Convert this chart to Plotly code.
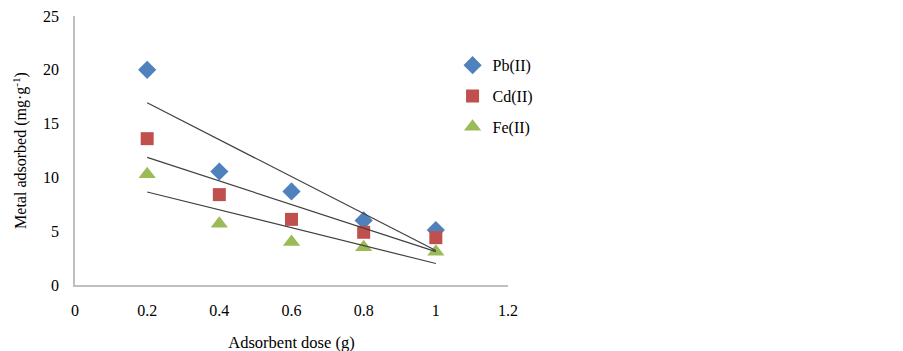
import numpy as np
import plotly.graph_objects as go

dose = [0.2, 0.4, 0.6, 0.8, 1.0]
pb = [20.0, 10.55, 8.7, 6.0, 5.1]
cd = [13.6, 8.4, 6.1, 4.9, 4.4]
fe = [10.3, 5.7, 4.0, 3.5, 3.1]

series = [
    ("Pb(II)", pb, "#4F81BD", "diamond", 14),
    ("Cd(II)", cd, "#C0504D", "square", 13),
    ("Fe(II)", fe, "#9BBB59", "triangle-up", 15),
]

fig = go.Figure()
for name, ys, color, sym, sz in series:
    fig.add_trace(go.Scatter(
        x=dose, y=ys, mode="markers", name=name, legendgroup=name,
        marker=dict(color=color, symbol=sym, size=sz, line=dict(width=0)),
    ))
for name, ys, color, sym, sz in series:
    k, b = np.polyfit(dose, ys, 1)
    xs = [dose[0], dose[-1]]
    fig.add_trace(go.Scatter(
        x=xs, y=[k * v + b for v in xs], mode="lines", showlegend=False,
        line=dict(color="#404040", width=1.2),
    ))

font = "Liberation Serif, Times New Roman, serif"
fig.update_layout(
    width=903, height=351,
    margin=dict(l=67, r=403, t=8, b=74),
    paper_bgcolor="white", plot_bgcolor="white",
    font=dict(family=font, size=16, color="#000000"),
    showlegend=True,
    legend=dict(x=0.872, y=0.88, xanchor="left", yanchor="top",
                font=dict(family=font, size=16), tracegroupgap=7,
                bgcolor="rgba(0,0,0,0)"),
    xaxis=dict(range=[0, 1.2], tickvals=[0, 0.2, 0.4, 0.6, 0.8, 1.0, 1.2],
               ticktext=["0", "0.2", "0.4", "0.6", "0.8", "1", "1.2"],
               showgrid=False, zeroline=False, showline=True, automargin=False,
               linecolor="#BFBFBF", linewidth=1.5,
               ticks="outside", ticklen=10, tickcolor="rgba(0,0,0,0)",
               tickfont=dict(size=16), ticklabeloverflow="allow",
               title=dict(text="Adsorbent dose (g)", font=dict(size=16.5), standoff=18)),
    yaxis=dict(range=[0, 25], tickvals=[0, 5, 10, 15, 20, 25],
               showgrid=False, zeroline=False, showline=True, automargin=False,
               linecolor="#BFBFBF", linewidth=1.5,
               ticks="outside", ticklen=11, tickcolor="rgba(0,0,0,0)",
               tickfont=dict(size=16), ticklabeloverflow="allow",
               title=dict(text="Metal adsorbed (mg·g<sup>-1</sup>)", font=dict(size=16), standoff=12)),
)
fig.write_html("out.html")
